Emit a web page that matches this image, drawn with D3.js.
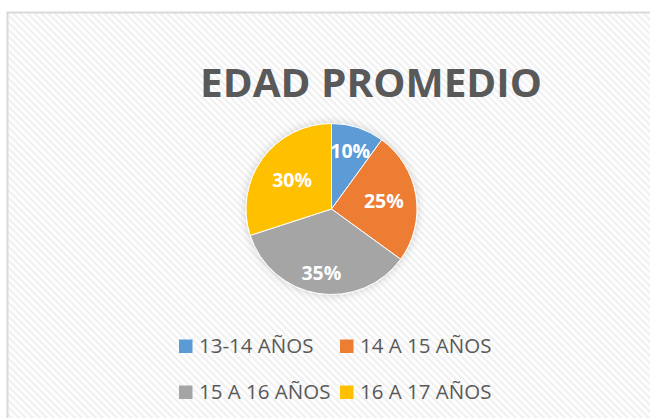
<!DOCTYPE html>
<html>
<head>
<meta charset="utf-8">
<script src="https://cdn.jsdelivr.net/npm/d3@7"></script>
<style>
  body { margin: 0; background: #fff; }
  svg { display: block; }
</style>
</head>
<body>
<script>
const labels = ["13-14 AÑOS", "14 A 15 AÑOS", "15 A 16 AÑOS", "16 A 17 AÑOS"];
const values = [10, 25, 35, 30];
const colors = ["#5B9BD5", "#ED7D31", "#A5A5A5", "#FFC000"];

let width = 650,
    height = 418;

let svg = d3.select("body").append("svg")
    .attr("width", width)
    .attr("height", height);

let defs = svg.append("defs");

// diagonal hatch like the excel chart area
let pat = defs.append("pattern")
    .attr("id", "hatch")
    .attr("patternUnits", "userSpaceOnUse")
    .attr("width", 7)
    .attr("height", 7);
pat.append("rect").attr("width", 7).attr("height", 7).attr("fill", "#fff");
pat.append("path")
    .attr("d", "M-1,-1 L8,8 M-8,-1 L1,8 M6,-1 L15,8")
    .attr("stroke", "#f2f2f2")
    .attr("stroke-width", 2.6);

let glow = defs.append("filter").attr("id", "glow")
    .attr("x", "-20%").attr("y", "-20%").attr("width", "140%").attr("height", "140%");
glow.append("feGaussianBlur").attr("in", "SourceAlpha").attr("stdDeviation", 4).attr("result", "b");
glow.append("feComponentTransfer").attr("in", "b").attr("result", "s")
    .append("feFuncA").attr("type", "linear").attr("slope", 0.18);
let merge = glow.append("feMerge");
merge.append("feMergeNode").attr("in", "s");
merge.append("feMergeNode").attr("in", "SourceGraphic");

svg.append("rect")
    .attr("x", 7.5).attr("y", 12.5)
    .attr("width", width).attr("height", height)
    .attr("fill", "url(#hatch)")
    .attr("stroke", "#d9d9d9")
    .attr("stroke-width", 2);

svg.append("text")
    .attr("x", 371)
    .attr("y", 97)
    .attr("text-anchor", "middle")
    .attr("font-family", "'Open Sans', sans-serif")
    .attr("font-weight", "bold")
    .attr("font-size", 40)
    .attr("fill", "#595959")
    .attr("textLength", 342)
    .attr("lengthAdjust", "spacingAndGlyphs")
    .text("EDAD PROMEDIO");

let cx = 331.5, cy = 209, r = 85.5;

// excel "best fit" puts each label at its own distance from the centre
const labelRadius = [0.71, 0.62, 0.76, 0.57];

let pie = d3.pie().sort(null).value(d => d);
let arcs = pie(values);
let arc = d3.arc().innerRadius(0).outerRadius(r);

let g = svg.append("g")
    .attr("transform", `translate(${cx},${cy})`);

g.append("g").attr("filter", "url(#glow)")
    .selectAll("path")
    .data(arcs)
    .enter().append("path")
    .attr("d", arc)
    .attr("fill", (d, i) => colors[i])
    .attr("stroke", "#fff")
    .attr("stroke-width", 1);

g.selectAll(".lbl")
    .data(arcs)
    .enter().append("text")
    .attr("class", "lbl")
    .attr("transform", (d, i) => {
        let la = d3.arc().innerRadius(r * labelRadius[i]).outerRadius(r * labelRadius[i]);
        return `translate(${la.centroid(d)})`;
    })
    .attr("dy", "0.36em")
    .attr("text-anchor", "middle")
    .attr("font-family", "'Open Sans', sans-serif")
    .attr("font-weight", "bold")
    .attr("font-size", 19.5)
    .attr("fill", "#fff")
    .text(d => d.data + "%");

// legend, two rows of two
let legX = [179, 340];
let legY = [353, 399];
let leg = svg.selectAll(".leg")
    .data(labels)
    .enter().append("g")
    .attr("class", "leg")
    .attr("transform", (d, i) => `translate(${legX[i % 2]},${legY[Math.floor(i / 2)]})`);

leg.append("rect")
    .attr("x", 0).attr("y", -13.5)
    .attr("width", 13.5).attr("height", 13.5)
    .attr("fill", (d, i) => colors[i]);

leg.append("text")
    .attr("x", 20)
    .attr("y", 0)
    .attr("font-family", "'Open Sans', sans-serif")
    .attr("font-size", 20.5)
    .attr("fill", "#595959")
    .text(d => d);
</script>
</body>
</html>
